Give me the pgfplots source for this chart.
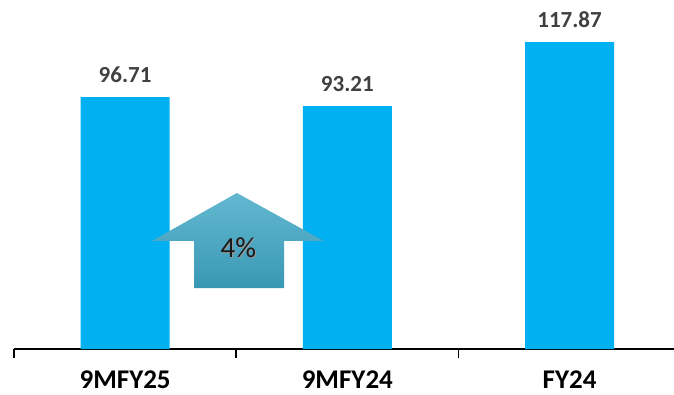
\documentclass[border=0pt]{standalone}
\usepackage{pgfplots}
\pgfplotsset{compat=1.18}
\usepackage{fontspec}
\setmainfont{Carlito}
\definecolor{barblue}{HTML}{00B0F0}
\definecolor{lbl}{HTML}{404040}
\definecolor{arrtop}{HTML}{63B8D0}
\definecolor{arrbot}{HTML}{3A98B5}
\begin{document}
\begin{tikzpicture}
\begin{axis}[
  at={(0,0)}, anchor=south west,
  scale only axis, width=660pt, height=349pt,
  xmin=-0.5, xmax=2.47, ymin=0, ymax=134,
  axis x line*=bottom, axis y line=none,
  x axis line style={line width=1.5pt, -},
  xtick={0,1,2}, xticklabels={9MFY25,9MFY24,FY24},
  major tick length=0pt,
  extra x ticks={-0.5,0.5,1.5}, extra x tick labels={},
  extra x tick style={major tick length=9pt, tick align=outside, tick style={line width=1.5pt, black}},
  xticklabel style={font=\fontsize{27}{30}\selectfont\bfseries, text=black, yshift=-18pt},
  ybar, bar width=0.4, bar shift=0pt,
  nodes near coords,
  /pgf/number format/assume math mode=true,
  /pgf/number format/.cd, fixed, fixed zerofill, precision=2, /pgfplots/.cd,
  every node near coord/.append style={font=\fontsize{23}{27}\selectfont\bfseries, text=lbl, yshift=11pt},
  clip=false,
]
\addplot[fill=barblue, draw=none] coordinates {(0,96.71) (1,93.21) (2,117.87)};
\shade[top color=arrtop, bottom color=arrbot]
  (axis cs:0.503,59.9) -- (axis cs:0.894,41.5) -- (axis cs:0.715,41.5) -- (axis cs:0.715,23.4)
  -- (axis cs:0.31,23.4) -- (axis cs:0.31,41.5) -- (axis cs:0.121,41.5) -- cycle;
\node[text=black!40, font=\fontsize{29}{33}\selectfont] at ([xshift=1pt,yshift=-1pt]axis cs:0.51,38.9) {4\%};
\node[text=black!90, font=\fontsize{29}{33}\selectfont] at (axis cs:0.51,38.9) {4\%};
\end{axis}
\pgfresetboundingbox
\path (-14pt,-45pt) rectangle (660pt,349pt);
\end{tikzpicture}
\end{document}
